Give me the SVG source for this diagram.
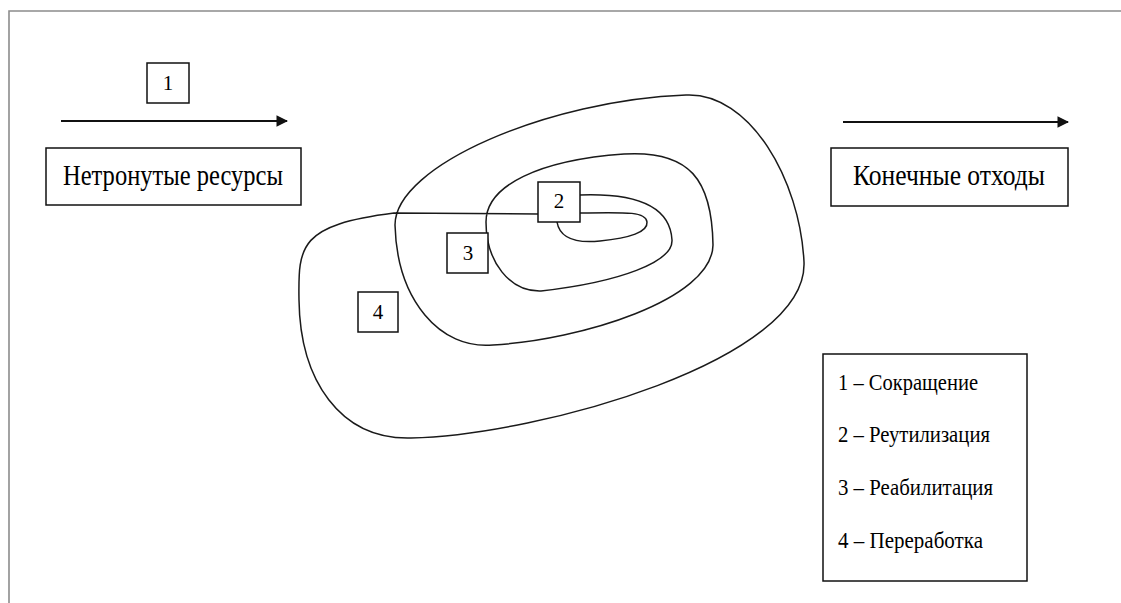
<svg xmlns="http://www.w3.org/2000/svg" width="1121" height="603" viewBox="0 0 1121 603">
<style>
.frame{fill:none;stroke:#8c8c8c;stroke-width:1.6}
.box{fill:#fff;stroke:#111;stroke-width:1.5}
.curve{fill:none;stroke:#1a1a1a;stroke-width:1.5}
.conn{stroke:#111;stroke-width:1.8;fill:none}
.t{font-family:"Liberation Serif","Times New Roman",serif;fill:#000}
.big{font-size:30px}
.leg{font-size:24px}
.num{font-size:21px;text-anchor:middle}
</style>
<defs>
<marker id="ah" viewBox="0 0 10 10" refX="9" refY="5" markerWidth="6.5" markerHeight="6.5" markerUnits="strokeWidth" orient="auto">
<path d="M0,0 L10,5 L0,10 Z" fill="#111"/>
</marker>
</defs>
<rect width="1121" height="603" fill="#fff"/>
<path class="frame" d="M9,603 L9,11 L1121,11"/>
<g id="connectors">
<line class="conn" x1="61" y1="121" x2="287" y2="121" marker-end="url(#ah)"/>
<line class="conn" x1="843" y1="122" x2="1068" y2="122" marker-end="url(#ah)"/>
</g>
<g id="spiral">
<path class="curve" d="M580,195 C635,193 670,205 672,240 C673,262 620,282 541,291 C510,292 486,262 486,222 C486,185 540,160 624,154 C690,150 712,180 713,245 C712,300 580,340 493,345 C440,350 397,300 395,225 C395,165 550,100 686,95 C750,92 800,180 804,262 C808,360 540,435 411,438 C340,440 300,380 299,300 C298,245 300,225 394,213 L538,214"/>
<path class="curve" d="M557,222 C560,240 580,243 600,241 C630,238 648,232 647,222 C646,212 630,212 580,213"/>
</g>
<g id="n1"><rect class="box" x="147" y="63" width="42" height="40"/><text class="t num" x="168" y="90">1</text></g>
<g id="n2"><rect class="box" x="538" y="182" width="42" height="40"/><text class="t num" x="559" y="208">2</text></g>
<g id="n3"><rect class="box" x="447" y="233" width="41" height="40"/><text class="t num" x="468" y="260">3</text></g>
<g id="n4"><rect class="box" x="358" y="292" width="40" height="40"/><text class="t num" x="378" y="319">4</text></g>
<g id="source"><rect class="box" x="46" y="148" width="255" height="57"/><text class="t big" x="63" y="185" textLength="220" lengthAdjust="spacingAndGlyphs">Нетронутые ресурсы</text></g>
<g id="sink"><rect class="box" x="831" y="148" width="237" height="58"/><text class="t big" x="853" y="185" textLength="192" lengthAdjust="spacingAndGlyphs">Конечные отходы</text></g>
<g id="legend">
<rect class="box" x="823" y="354" width="204" height="227"/>
<text class="t leg" x="838" y="390" textLength="140" lengthAdjust="spacingAndGlyphs">1 – Сокращение</text>
<text class="t leg" x="838" y="442" textLength="152" lengthAdjust="spacingAndGlyphs">2 – Реутилизация</text>
<text class="t leg" x="838" y="495" textLength="155" lengthAdjust="spacingAndGlyphs">3 – Реабилитация</text>
<text class="t leg" x="838" y="548" textLength="145" lengthAdjust="spacingAndGlyphs">4 – Переработка</text>
</g>
</svg>
